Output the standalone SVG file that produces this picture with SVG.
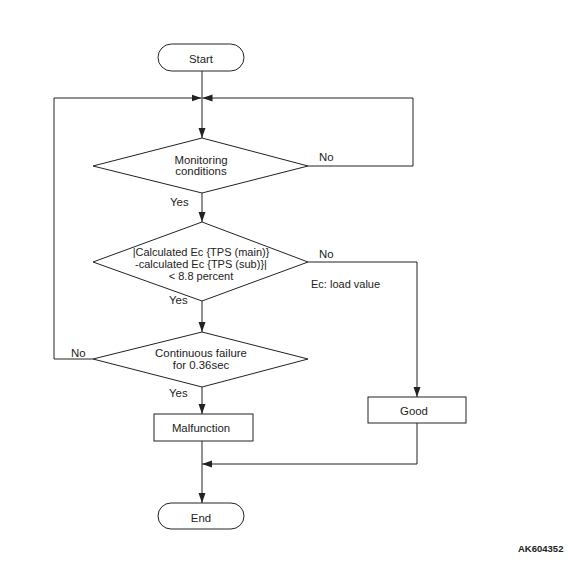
<svg xmlns="http://www.w3.org/2000/svg" width="577" height="567" viewBox="0 0 577 567">
<style>
.s{fill:#fff;stroke:#222;stroke-width:1}
.c{fill:none;stroke:#222;stroke-width:1}
text{font-family:"Liberation Sans",Arial,sans-serif;font-size:11.4px;fill:#222}
.m{text-anchor:middle}
.sm{font-size:11px}
.id{font-weight:bold;font-size:9.5px}
</style>
<defs>
<marker id="a" markerUnits="userSpaceOnUse" markerWidth="10" markerHeight="8" refX="10" refY="4" orient="auto">
<path d="M0,0.5 L10,4 L0,7.5 z" fill="#222"/>
</marker>
</defs>
<rect width="577" height="567" fill="#fff"/>
<g id="connectors">
<path class="c" d="M202,71 V138" marker-end="url(#a)"/>
<path class="c" d="M93,359 H54 V98 H201.5" marker-end="url(#a)"/>
<path class="c" d="M308,166 H413 V98 H202.5" marker-end="url(#a)"/>
<path class="c" d="M202,193 V222" marker-end="url(#a)"/>
<path class="c" d="M202,301 V332" marker-end="url(#a)"/>
<path class="c" d="M308,262 H417 V397" marker-end="url(#a)"/>
<path class="c" d="M202,387 V414" marker-end="url(#a)"/>
<path class="c" d="M202,441 V503" marker-end="url(#a)"/>
<path class="c" d="M417,423 V464 H202" marker-end="url(#a)"/>
</g>
<g id="start">
<rect class="s" x="158" y="44" width="86" height="27" rx="13.5"/>
<text class="m" x="201" y="63">Start</text>
</g>
<g id="monitoring">
<polygon class="s" points="202,138 308,166 202,193 93,166"/>
<text class="m" x="201" y="164">Monitoring</text>
<text class="m" x="201" y="175">conditions</text>
</g>
<g id="calc">
<polygon class="s" points="202,222 308,262 202,301 93,262"/>
<text class="m sm" x="201" y="256">|Calculated Ec {TPS (main)}</text>
<text class="m sm" x="201" y="268">-calculated Ec {TPS (sub)}|</text>
<text class="m sm" x="201" y="280">&lt; 8.8 percent</text>
</g>
<g id="continuous">
<polygon class="s" points="202,332 308,359 202,387 93,359"/>
<text class="m" x="201" y="357">Continuous failure</text>
<text class="m" x="201" y="369">for 0.36sec</text>
</g>
<g id="malfunction">
<rect class="s" x="154" y="414" width="99" height="27"/>
<text class="m" x="201" y="432">Malfunction</text>
</g>
<g id="good">
<rect class="s" x="368" y="397" width="98" height="26"/>
<text class="m" x="414" y="415">Good</text>
</g>
<g id="end">
<rect class="s" x="158" y="503" width="86" height="26" rx="13"/>
<text class="m" x="201" y="522">End</text>
</g>
<g id="labels">
<text x="319" y="161">No</text>
<text x="170" y="206">Yes</text>
<text x="319" y="258">No</text>
<text class="sm" x="311" y="288">Ec: load value</text>
<text x="169" y="304">Yes</text>
<text x="71" y="357">No</text>
<text x="169" y="397">Yes</text>
<text class="id" x="518" y="552">AK604352</text>
</g>
</svg>
